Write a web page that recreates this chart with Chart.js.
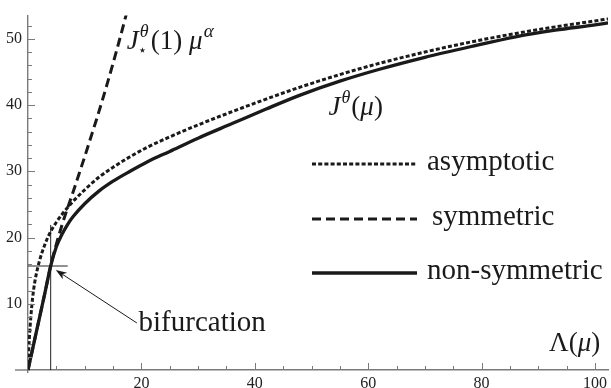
<!DOCTYPE html>
<html>
<head>
<meta charset="utf-8">
<script src="https://cdn.jsdelivr.net/npm/chart.js@4.4.1/dist/chart.umd.min.js"></script>
<style>
  html, body { margin: 0; padding: 0; background: #fff; }
  #wrap { width: 611px; height: 388px; }
</style>
</head>
<body>
<div id="wrap"><canvas id="c" width="611" height="388"></canvas></div>
<script>
// ===== Data
const nonSymX = [0, 1, 2, 3, 4, 5, 6, 7, 8, 10, 12.5, 15, 18, 21, 25, 30, 36, 42, 48, 55, 62, 70, 78, 86, 93, 100, 102.3];
const nonSymY = [0, 3.9, 7.8, 11.7, 15.7, 18.6, 20.5, 22.0, 23.2, 25.1, 27.0, 28.5, 30.0, 31.4, 33.0, 35.0, 37.2, 39.4, 41.5, 43.6, 45.4, 47.2, 48.8, 50.3, 51.3, 52.1, 52.4];

const asymX = [0, 0.1, 0.25, 0.5, 0.8, 1.2, 2, 3, 4, 5, 6, 8, 10, 12.5, 15, 18, 21, 25, 30, 36, 42, 48, 55, 62, 70, 78, 86, 93, 100, 102.3];
const asymY = [0, 2.5, 5.0, 8.0, 10.8, 13.3, 16.4, 19.0, 20.9, 22.3, 23.5, 25.5, 27.2, 29.1, 30.6, 32.2, 33.6, 35.2, 37.0, 39.0, 40.9, 42.7, 44.6, 46.3, 48.0, 49.5, 50.8, 51.8, 52.7, 53.0];

const symX = [0, 1, 2, 3, 4, 5, 6, 7, 8, 9, 10, 11, 12, 13, 14, 15, 16, 17, 18];
const symY = [0, 3.9, 7.8, 11.7, 15.7, 19.0, 21.9, 24.5, 27.0, 29.6, 32.2, 34.9, 37.6, 40.4, 43.3, 46.3, 49.4, 52.6, 55.9];

// bifurcation marker lines
const bifVertX = [4.0, 4.0];
const bifVertY = [0, 21.9];
const bifHorzX = [0, 7.0];
const bifHorzY = [15.7, 15.7];

// ticks
const xTickLabels = [20, 40, 60, 80, 100];
const yTickLabels = [10, 20, 30, 40, 50];
const xMinorTicks = [5, 10, 15, 20, 25, 30, 35, 40, 45, 50, 55, 60, 65, 70, 75, 80, 85, 90, 95, 100];
const yMinorTicks = [2, 4, 6, 8, 10, 12, 14, 16, 18, 20, 22, 24, 26, 28, 30, 32, 34, 36, 38, 40, 42, 44, 46, 48, 50, 52];

const ink = '#1a1a1a';
const axisColor = '#7a7a7a';
const serif = '"Liberation Serif", "Times New Roman", serif';

const pts = (xs, ys) => xs.map((v, i) => ({ x: v, y: ys[i] }));

// ===== draw a run of text pieces (math-ish labels)
function drawRuns(ctx, x, base, runs) {
  let cx = x;
  runs.forEach(r => {
    ctx.font = r.font;
    if (r.gap) cx += r.gap;
    ctx.fillText(r.t, cx, base + (r.dy || 0));
    cx += ctx.measureText(r.t).width;
  });
}

const decorations = {
  id: 'decorations',
  afterDraw(chart) {
    const { ctx, scales: { x, y } } = chart;
    const x0 = x.getPixelForValue(0), y0 = y.getPixelForValue(0);
    ctx.save();

    // x axis runs a little left of the y axis
    ctx.strokeStyle = axisColor;
    ctx.lineWidth = 1.4;
    ctx.beginPath();
    ctx.moveTo(15, y0); ctx.lineTo(x0, y0);
    ctx.stroke();

    // ticks pointing inward
    ctx.lineWidth = 1;
    ctx.beginPath();
    xMinorTicks.forEach(v => {
      const px = Math.round(x.getPixelForValue(v)) + 0.5;
      const len = xTickLabels.includes(v) ? 7 : 4;
      ctx.moveTo(px, y0); ctx.lineTo(px, y0 - len);
    });
    yMinorTicks.forEach(v => {
      const py = Math.round(y.getPixelForValue(v)) + 0.5;
      const len = yTickLabels.includes(v) ? 7 : 4;
      ctx.moveTo(x0, py); ctx.lineTo(x0 + len, py);
    });
    ctx.stroke();

    // legend
    const ds = chart.data.datasets;
    const left = 312, right = 417;
    const rows = [
      { d: ds[2], ly: 164, tx: 427, text: 'asymptotic' },
      { d: ds[1], ly: 219, tx: 432, text: 'symmetric' },
      { d: ds[0], ly: 273, tx: 427, text: 'non-symmetric' }
    ];
    ctx.fillStyle = ink;
    ctx.textBaseline = 'alphabetic';
    ctx.textAlign = 'left';
    rows.forEach(r => {
      ctx.strokeStyle = ink;
      ctx.lineWidth = r.d.borderWidth;
      ctx.setLineDash(r.d.borderDash || []);
      ctx.beginPath();
      ctx.moveTo(left, r.ly); ctx.lineTo(right, r.ly);
      ctx.stroke();
      ctx.setLineDash([]);
      ctx.font = '29px ' + serif;
      ctx.fillText(r.text, r.tx, r.ly + 6);
    });

    // curve labels
    const it = (s) => 'italic ' + s + 'px ' + serif;
    const up = (s) => s + 'px ' + serif;
    // J*^theta(1) mu^alpha
    const j1x = x.getPixelForValue(17.4), j1y = y.getPixelForValue(48.5);
    ctx.font = it(27);
    const jw = ctx.measureText('J').width;
    ctx.fillText('J', j1x, j1y);
    ctx.font = it(18);
    ctx.fillText('θ', j1x + jw + 1, j1y - 12);
    ctx.font = '15px "DejaVu Sans", sans-serif';
    ctx.fillText('⋆', j1x + jw - 1, j1y + 6);
    drawRuns(ctx, j1x + jw + 12, j1y, [
      { t: '(1)', font: up(27) },
      { t: 'μ', font: it(27), gap: 7 },
      { t: 'α', font: it(19), dy: -12, gap: 1 }
    ]);

    // J^theta(mu)
    drawRuns(ctx, x.getPixelForValue(53.0), y.getPixelForValue(38.5), [
      { t: 'J', font: it(27) },
      { t: 'θ', font: it(18), dy: -12, gap: 1 },
      { t: '(', font: up(27), gap: 1 },
      { t: 'μ', font: it(27) },
      { t: ')', font: up(27) }
    ]);

    // Lambda(mu) axis label
    drawRuns(ctx, x.getPixelForValue(91.9), y.getPixelForValue(2.9), [
      { t: 'Λ(', font: up(27) },
      { t: 'μ', font: it(27) },
      { t: ')', font: up(27) }
    ]);

    // bifurcation annotation + arrow
    ctx.font = '29px ' + serif;
    ctx.fillText('bifurcation', x.getPixelForValue(19.5), y.getPixelForValue(5.9));
    const hx = x.getPixelForValue(4.9), hy = y.getPixelForValue(15.1);
    const tx = x.getPixelForValue(19.2), ty = y.getPixelForValue(7.1);
    const ang = Math.atan2(hy - ty, hx - tx);
    const c = Math.cos(ang), s = Math.sin(ang);
    ctx.strokeStyle = ink;
    ctx.lineWidth = 1;
    ctx.beginPath();
    ctx.moveTo(tx, ty);
    ctx.lineTo(hx - 8 * c, hy - 8 * s);
    ctx.stroke();
    ctx.beginPath();
    ctx.moveTo(hx, hy);
    ctx.lineTo(hx - 11 * c + 4 * s, hy - 11 * s - 4 * c);
    ctx.lineTo(hx - 8 * c, hy - 8 * s);
    ctx.lineTo(hx - 11 * c - 4 * s, hy - 11 * s + 4 * c);
    ctx.closePath();
    ctx.fill();

    ctx.restore();
  }
};

const lineBase = { pointRadius: 0, pointHoverRadius: 0, fill: false, borderColor: ink, borderCapStyle: 'butt', cubicInterpolationMode: 'monotone' };

new Chart(document.getElementById('c').getContext('2d'), {
  type: 'line',
  data: {
    datasets: [
      { ...lineBase, label: 'non-symmetric', data: pts(nonSymX, nonSymY), borderWidth: 3.3, order: 0 },
      { ...lineBase, label: 'symmetric', data: pts(symX, symY), borderWidth: 3, borderDash: [9, 5], order: 1 },
      { ...lineBase, label: 'asymptotic', data: pts(asymX, asymY), borderWidth: 3, borderDash: [4, 2.2], order: 2 },
      { ...lineBase, label: 'bif-v', data: pts(bifVertX, bifVertY), borderWidth: 1, borderColor: '#222', cubicInterpolationMode: 'default', tension: 0, order: 3 },
      { ...lineBase, label: 'bif-h', data: pts(bifHorzX, bifHorzY), borderWidth: 1, borderColor: '#222', cubicInterpolationMode: 'default', tension: 0, order: 3 }
    ]
  },
  options: {
    responsive: false,
    animation: false,
    devicePixelRatio: 1,
    layout: { padding: { left: 0, right: 0, top: 6, bottom: 16 } },
    plugins: { legend: { display: false }, tooltip: { enabled: false } },
    scales: {
      x: {
        type: 'linear', min: 0, max: 102.3,
        position: { y: 0 },
        grid: { display: false, drawTicks: false },
        border: { display: true, color: axisColor, width: 1.4 },
        ticks: { font: { family: 'Liberation Serif', size: 16 }, color: '#222', padding: 4, maxRotation: 0 },
        afterBuildTicks: s => { s.ticks = xTickLabels.map(v => ({ value: v })); }
      },
      y: {
        type: 'linear', min: -0.3, max: 53.5,
        position: 'left',
        grid: { display: false, drawTicks: false },
        border: { display: true, color: axisColor, width: 1.4 },
        ticks: { font: { family: 'Liberation Serif', size: 16 }, color: '#222', padding: 6 },
        afterBuildTicks: s => { s.ticks = yTickLabels.map(v => ({ value: v })); },
        afterFit: s => { s.width = 28; }
      }
    }
  },
  plugins: [decorations]
});
</script>
</body>
</html>
